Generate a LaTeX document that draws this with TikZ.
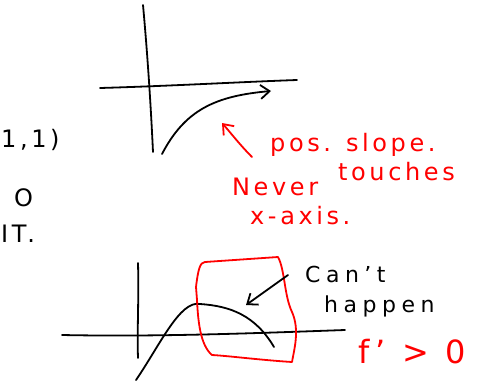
\documentclass[tikz,border=0pt]{standalone}
\usepackage{fontspec}
\setmainfont{DejaVu Sans}
\usetikzlibrary{arrows.meta}
\definecolor{pen}{RGB}{255,0,0}
\tikzset{
  ink/.style={line width=1.8pt, line cap=round, line join=round, black},
  redink/.style={line width=1.8pt, line cap=round, line join=round, pen},
  note/.style={inner sep=0pt, anchor=west, font=\fontsize{24}{26}\selectfont\addfontfeature{LetterSpace=15}},
  rednote/.style={note, text=pen},
  smallnote/.style={note, font=\fontsize{22}{24}\selectfont\addfontfeature{LetterSpace=25}},
  barb/.style={-{Straight Barb[length=9pt,width=14pt,line width=1.8pt]}}
}
\begin{document}
\begin{tikzpicture}[x=1pt,y=-1pt]
\useasboundingbox (0,0) rectangle (489,383);
% top graph
\coordinate (tva) at (143,5);
\coordinate (tvb) at (153,152);
\coordinate (tha) at (100,88);
\coordinate (thb) at (297,80);
\coordinate (tca) at (162,154);
\coordinate (tcb) at (271,91);
\draw[ink] (tva) .. controls (148,60) and (151,110) .. (tvb);
\draw[ink] (tha) .. controls (170,86) and (240,82) .. (thb);
\draw[ink, barb] (tca) .. controls (185,110) and (215,96) .. (tcb);
% red arrow and notes
\coordinate (rta) at (252,157);
\coordinate (rtb) at (222,123);
\draw[redink, barb] (rta) .. controls (240,145) and (230,132) .. (rtb);
\node[rednote] (pos) at (270,145) {pos. slope.};
\node[rednote] (never) at (232,187) {Never};
\node[rednote] (touch) at (338,172) {touches};
\node[rednote] (xaxis) at (250,216) {x-axis.};
% left fragments
\node[note] (frag1) at (1,140) {1,1)};
\node[note] (frag2) at (14,198) {O};
\node[note] (frag3) at (1,234) {IT.};
% bottom graph
\coordinate (bva) at (138,263);
\coordinate (bvb) at (138,358);
\coordinate (bha) at (62,335);
\coordinate (bhb) at (345,330);
\coordinate (bca) at (136,380);
\coordinate (bcb) at (274,347);
\draw[ink] (bva) .. controls (139,300) and (137,330) .. (bvb);
\draw[ink] (bha) .. controls (160,337) and (260,333) .. (bhb);
\draw[ink] (bca) .. controls (160,345) and (180,300) .. (200,304)
  .. controls (230,306) and (255,315) .. (bcb);
% red box
\draw[redink] (196,287) .. controls (198,270) and (200,262) .. (205,262)
  -- (278,257) .. controls (285,270) and (284,295) .. (292,312)
  .. controls (300,330) and (294,350) .. (292,362)
  .. controls (260,360) and (230,356) .. (212,355)
  .. controls (200,345) and (198,320) .. (197,300) -- cycle;
% black arrow
\coordinate (baa) at (288,275);
\coordinate (bab) at (246,305);
\draw[ink, barb] (baa) -- (bab);
\node[smallnote] (cant) at (305,274) {Can't};
\node[smallnote] (happen) at (324,306) {happen};
\node[rednote, font=\fontsize{32}{34}\selectfont\addfontfeature{LetterSpace=20}] (fp) at (358,352) {f' > 0};
\end{tikzpicture}
\end{document}
